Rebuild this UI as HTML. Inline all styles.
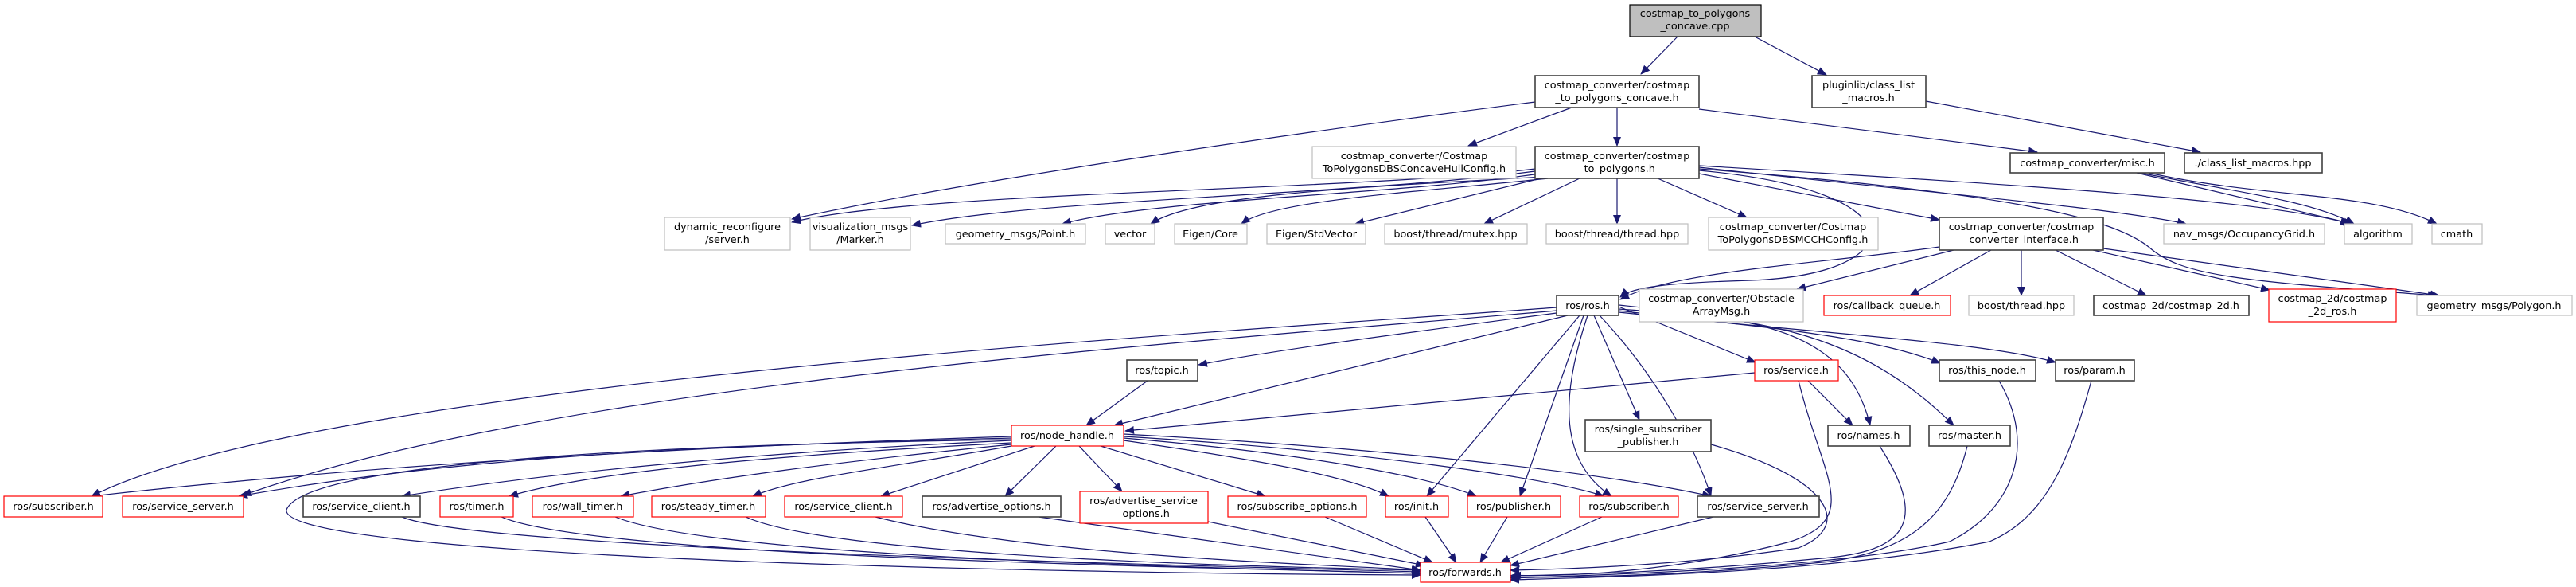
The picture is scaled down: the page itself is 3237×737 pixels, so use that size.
<!DOCTYPE html>
<html><head><meta charset="utf-8"><style>
html,body{margin:0;padding:0;background:#fff;}
svg{display:block;}
text{font-family:"DejaVu Sans","Liberation Sans",sans-serif;font-size:12.8px;fill:#000;text-anchor:middle;}
.k{fill:#fff;stroke:#404040;stroke-width:1.6;}
.r{fill:#fff;stroke:#ff0000;stroke-width:1.2;}
.g{fill:#fff;stroke:#bfbfbf;stroke-width:1.2;}
.e{fill:none;stroke:#191970;stroke-width:1.2;marker-end:url(#a);}
</style></head><body>
<svg width="3237" height="737" viewBox="0 0 3237 737" xmlns="http://www.w3.org/2000/svg">
<defs><marker id="a" markerWidth="12" markerHeight="10" refX="11" refY="5" orient="auto" markerUnits="userSpaceOnUse"><path d="M0,0 L12,5 L0,10 z" fill="#191970"/></marker></defs>
<g>
<path class="e" d="M2108,46 L2062,93"/>
<path class="e" d="M2205,46 L2295,94"/>
<path class="e" d="M1929,128 C1600,170 1200,230 995,275"/>
<path class="e" d="M1975,135 L1845,183"/>
<path class="e" d="M2032,135 L2032,183"/>
<path class="e" d="M2135,137 L2560,191"/>
<path class="e" d="M2420,127 L2765,191"/>
<path class="e" d="M1929,212 C1700,240 1150,240 995,279"/>
<path class="e" d="M1929,215 C1700,245 1300,250 1146,283"/>
<path class="e" d="M1935,218 C1750,245 1450,250 1335,281"/>
<path class="e" d="M1940,222 C1700,235 1500,245 1446,281"/>
<path class="e" d="M1945,224 C1800,240 1600,250 1560,281"/>
<path class="e" d="M1936,224 L1703,281"/>
<path class="e" d="M1985,224 L1865,281"/>
<path class="e" d="M2032,224 L2032,281"/>
<path class="e" d="M2083,224 L2195,273"/>
<path class="e" d="M2135,218 L2437,276"/>
<path class="e" d="M2135,210 C2400,240 2650,260 2747,281"/>
<path class="e" d="M2135,208 C2500,230 2850,250 2952,281"/>
<path class="e" d="M2135,212 C2500,240 2650,270 2700,310 C2740,345 2800,352 3062,371"/>
<path class="e" d="M2135,214 C2420,240 2400,345 2200,352 C2100,355 2050,360 2036,373"/>
<path class="e" d="M2685,217 L2956,281"/>
<path class="e" d="M2690,217 C2800,240 2900,250 2958,281"/>
<path class="e" d="M2700,217 C2850,250 2980,240 3062,281"/>
<path class="e" d="M2437,310 C2300,330 2100,340 2036,376"/>
<path class="e" d="M2455,314 L2258,363"/>
<path class="e" d="M2502,314 L2400,371"/>
<path class="e" d="M2540,314 L2540,371"/>
<path class="e" d="M2583,314 L2697,371"/>
<path class="e" d="M2630,314 L2852,364"/>
<path class="e" d="M2643,312 L3065,371"/>
<path class="e" d="M1956,386 C1500,420 400,480 115,623"/>
<path class="e" d="M1956,390 C1500,430 700,480 305,622"/>
<path class="e" d="M1956,393 C1750,420 1600,440 1506,458"/>
<path class="e" d="M1970,396 L1400,534"/>
<path class="e" d="M1985,396 L1793,623"/>
<path class="e" d="M1990,396 L1910,623"/>
<path class="e" d="M1995,396 C1960,500 1960,580 2025,623"/>
<path class="e" d="M2003,396 L2060,527"/>
<path class="e" d="M2010,396 C2080,470 2130,560 2150,623"/>
<path class="e" d="M2034,385 L2206,455"/>
<path class="e" d="M2034,383 C2200,400 2320,410 2350,534"/>
<path class="e" d="M2034,388 C2200,400 2330,410 2455,534"/>
<path class="e" d="M2034,390 C2200,410 2350,420 2438,456"/>
<path class="e" d="M2034,392 C2300,420 2500,430 2583,455"/>
<path class="e" d="M1442,478 L1365,534"/>
<path class="e" d="M2205,468 L1414,541"/>
<path class="e" d="M2272,478 L2328,534"/>
<path class="e" d="M2260,478 C2290,600 2340,650 2250,680 C2100,720 1950,725 1900,722"/>
<path class="e" d="M1271,548 C900,560 500,580 115,623"/>
<path class="e" d="M1271,550 C900,560 600,570 300,623"/>
<path class="e" d="M1271,553 C900,570 650,600 505,623"/>
<path class="e" d="M1271,556 C1000,570 750,590 640,623"/>
<path class="e" d="M1271,558 C1050,580 900,600 780,623"/>
<path class="e" d="M1271,560 C1100,590 1000,600 946,623"/>
<path class="e" d="M1300,560 L1107,623"/>
<path class="e" d="M1327,560 L1263,623"/>
<path class="e" d="M1356,560 L1410,617"/>
<path class="e" d="M1383,560 L1590,623"/>
<path class="e" d="M1412,553 C1600,580 1700,600 1745,623"/>
<path class="e" d="M1412,550 C1650,570 1800,600 1855,623"/>
<path class="e" d="M1412,548 C1700,565 1950,600 2015,623"/>
<path class="e" d="M1412,545 C1700,560 2000,590 2150,623"/>
<path class="e" d="M1271,552 C700,560 380,590 360,640 C350,700 1300,720 1785,722"/>
<path class="e" d="M505,649 C600,690 1500,710 1785,718"/>
<path class="e" d="M630,649 C750,700 1500,712 1785,720"/>
<path class="e" d="M773,649 C900,700 1500,712 1785,720"/>
<path class="e" d="M937,649 C1050,700 1600,712 1785,716"/>
<path class="e" d="M1100,649 C1300,700 1700,710 1785,716"/>
<path class="e" d="M1305,649 L1785,716"/>
<path class="e" d="M1518,655 L1790,710"/>
<path class="e" d="M1665,649 L1800,706"/>
<path class="e" d="M1791,649 L1830,706"/>
<path class="e" d="M1894,649 L1860,706"/>
<path class="e" d="M2013,649 L1886,706"/>
<path class="e" d="M2153,649 L1898,710"/>
<path class="e" d="M2150,558 C2300,600 2330,660 2260,688 C2100,712 1950,715 1898,716"/>
<path class="e" d="M2362,560 C2420,650 2400,690 2300,700 C2100,720 1950,722 1898,723"/>
<path class="e" d="M2472,560 C2450,650 2400,690 2300,705 C2100,725 1950,725 1898,725"/>
<path class="e" d="M2512,478 C2560,560 2530,640 2450,680 C2300,715 2000,722 1898,726"/>
<path class="e" d="M2628,478 C2600,580 2570,650 2500,680 C2300,720 2000,725 1898,728"/>
</g>
<g>
<rect x="2048" y="6" width="165" height="40" style="fill:#bfbfbf;stroke:#000;stroke-width:1.2"/><text x="2130" y="21">costmap_to_polygons</text><text x="2130" y="37">_concave.cpp</text>
<rect class="k" x="1929" y="95" width="206" height="40"/><text x="2032" y="111">costmap_converter/costmap</text><text x="2032" y="127">_to_polygons_concave.h</text>
<rect class="k" x="2277" y="95" width="143" height="40"/><text x="2348" y="111">pluginlib/class_list</text><text x="2348" y="127">_macros.h</text>
<rect class="g" x="1649" y="184" width="256" height="40"/><text x="1777" y="200">costmap_converter/Costmap</text><text x="1777" y="216">ToPolygonsDBSConcaveHullConfig.h</text>
<rect class="k" x="1929" y="184" width="206" height="40"/><text x="2032" y="200">costmap_converter/costmap</text><text x="2032" y="216">_to_polygons.h</text>
<rect class="k" x="2526" y="192" width="194" height="25"/><text x="2623" y="209">costmap_converter/misc.h</text>
<rect class="k" x="2745" y="192" width="173" height="25"/><text x="2831" y="209">./class_list_macros.hpp</text>
<rect class="g" x="835" y="273" width="158" height="41"/><text x="914" y="289">dynamic_reconfigure</text><text x="914" y="305">/server.h</text>
<rect class="g" x="1018" y="273" width="126" height="41"/><text x="1081" y="289">visualization_msgs</text><text x="1081" y="305">/Marker.h</text>
<rect class="g" x="1188" y="281" width="176" height="25"/><text x="1276" y="298">geometry_msgs/Point.h</text>
<rect class="g" x="1389" y="281" width="62" height="25"/><text x="1420" y="298">vector</text>
<rect class="g" x="1476" y="281" width="91" height="25"/><text x="1521" y="298">Eigen/Core</text>
<rect class="g" x="1592" y="281" width="124" height="25"/><text x="1654" y="298">Eigen/StdVector</text>
<rect class="g" x="1740" y="281" width="179" height="25"/><text x="1829" y="298">boost/thread/mutex.hpp</text>
<rect class="g" x="1943" y="281" width="178" height="25"/><text x="2032" y="298">boost/thread/thread.hpp</text>
<rect class="g" x="2147" y="273" width="213" height="41"/><text x="2253" y="289">costmap_converter/Costmap</text><text x="2253" y="305">ToPolygonsDBSMCCHConfig.h</text>
<rect class="k" x="2437" y="273" width="206" height="41"/><text x="2540" y="289">costmap_converter/costmap</text><text x="2540" y="305">_converter_interface.h</text>
<rect class="g" x="2719" y="281" width="202" height="25"/><text x="2820" y="298">nav_msgs/OccupancyGrid.h</text>
<rect class="g" x="2946" y="281" width="85" height="25"/><text x="2988" y="298">algorithm</text>
<rect class="g" x="3056" y="281" width="63" height="25"/><text x="3087" y="298">cmath</text>
<rect class="k" x="1956" y="371" width="78" height="25"/><text x="1995" y="388">ros/ros.h</text>
<rect class="g" x="2060" y="363" width="206" height="41"/><text x="2163" y="379">costmap_converter/Obstacle</text><text x="2163" y="395">ArrayMsg.h</text>
<rect class="r" x="2292" y="371" width="159" height="25"/><text x="2371" y="388">ros/callback_queue.h</text>
<rect class="g" x="2474" y="371" width="132" height="25"/><text x="2540" y="388">boost/thread.hpp</text>
<rect class="k" x="2631" y="371" width="195" height="25"/><text x="2728" y="388">costmap_2d/costmap_2d.h</text>
<rect class="r" x="2851" y="363" width="160" height="41"/><text x="2931" y="379">costmap_2d/costmap</text><text x="2931" y="395">_2d_ros.h</text>
<rect class="g" x="3037" y="371" width="195" height="25"/><text x="3134" y="388">geometry_msgs/Polygon.h</text>
<rect class="k" x="1416" y="452" width="89" height="26"/><text x="1460" y="469">ros/topic.h</text>
<rect class="r" x="2205" y="452" width="105" height="26"/><text x="2257" y="469">ros/service.h</text>
<rect class="k" x="2437" y="452" width="121" height="26"/><text x="2497" y="469">ros/this_node.h</text>
<rect class="k" x="2583" y="452" width="99" height="26"/><text x="2632" y="469">ros/param.h</text>
<rect class="r" x="1271" y="534" width="141" height="26"/><text x="1341" y="551">ros/node_handle.h</text>
<rect class="k" x="1992" y="527" width="158" height="40"/><text x="2071" y="543">ros/single_subscriber</text><text x="2071" y="559">_publisher.h</text>
<rect class="k" x="2297" y="534" width="103" height="26"/><text x="2348" y="551">ros/names.h</text>
<rect class="k" x="2424" y="534" width="102" height="26"/><text x="2475" y="551">ros/master.h</text>
<rect class="r" x="5" y="623" width="124" height="26"/><text x="67" y="640">ros/subscriber.h</text>
<rect class="r" x="154" y="623" width="152" height="26"/><text x="230" y="640">ros/service_server.h</text>
<rect class="k" x="381" y="623" width="147" height="26"/><text x="454" y="640">ros/service_client.h</text>
<rect class="r" x="553" y="623" width="92" height="26"/><text x="599" y="640">ros/timer.h</text>
<rect class="r" x="669" y="623" width="127" height="26"/><text x="732" y="640">ros/wall_timer.h</text>
<rect class="r" x="819" y="623" width="143" height="26"/><text x="890" y="640">ros/steady_timer.h</text>
<rect class="r" x="986" y="623" width="148" height="26"/><text x="1060" y="640">ros/service_client.h</text>
<rect class="k" x="1159" y="623" width="174" height="26"/><text x="1246" y="640">ros/advertise_options.h</text>
<rect class="r" x="1357" y="617" width="161" height="40"/><text x="1437" y="633">ros/advertise_service</text><text x="1437" y="649">_options.h</text>
<rect class="r" x="1543" y="623" width="174" height="26"/><text x="1630" y="640">ros/subscribe_options.h</text>
<rect class="r" x="1741" y="623" width="79" height="26"/><text x="1780" y="640">ros/init.h</text>
<rect class="r" x="1844" y="623" width="117" height="26"/><text x="1902" y="640">ros/publisher.h</text>
<rect class="r" x="1985" y="623" width="124" height="26"/><text x="2047" y="640">ros/subscriber.h</text>
<rect class="k" x="2133" y="623" width="153" height="26"/><text x="2209" y="640">ros/service_server.h</text>
<rect class="r" x="1785" y="706" width="113" height="25"/><text x="1841" y="723">ros/forwards.h</text>
</g>
</svg>
</body></html>
